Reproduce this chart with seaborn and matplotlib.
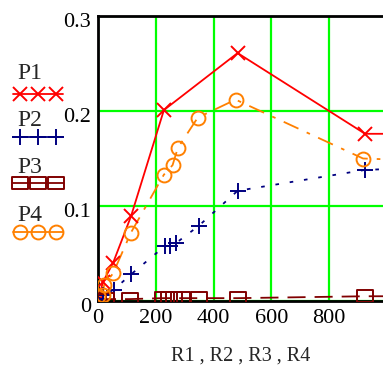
import matplotlib
matplotlib.use("Agg")
import matplotlib.pyplot as plt
import matplotlib.transforms as mtransforms
from matplotlib.path import Path
import seaborn as sns
import pandas as pd

# ---- data ----
p1_x = [0, 17, 52, 114, 228, 483, 924, 1100]
p1_y = [0.0, 0.02, 0.04, 0.089, 0.201, 0.261, 0.176, 0.176]

p2_x = [0, 17, 55, 114, 232, 250, 270, 348, 483, 924, 1100]
p2_y = [0.002, 0.006, 0.012, 0.028, 0.058, 0.058, 0.061, 0.079, 0.116, 0.138, 0.14]

p3_x = [0, 28, 110, 224, 245, 262, 290, 348, 483, 924, 1100]
p3_y = [0.001, 0.002, 0.002, 0.003, 0.003, 0.003, 0.003, 0.003, 0.003, 0.005, 0.005]

p4_x = [0, 17, 21, 52, 114, 228, 258, 276, 345, 476, 917, 1100]
p4_y = [0.005, 0.006, 0.017, 0.029, 0.072, 0.133, 0.143, 0.161, 0.193, 0.212, 0.150, 0.148]

series_names = ["P1", "P2", "P3", "P4"]
x_ticks = [0, 200, 400, 600, 800]
y_ticks = [0, 0.1, 0.2, 0.3]
x_label = "R1 , R2 , R3 , R4"

sns.set_style("white")
plt.rcParams["font.family"] = ["Liberation Serif", "DejaVu Serif"]

W, H = 383, 374
fig = plt.figure(figsize=(W / 100, H / 100), dpi=100)
ax = fig.add_axes([98 / W, 1 - 301 / H, (W - 98) / W, (301 - 16) / H])

wide_square = Path([(-1.3, -1), (1.3, -1), (1.3, 1), (-1.3, 1), (-1.3, -1)],
                   [Path.MOVETO, Path.LINETO, Path.LINETO, Path.LINETO, Path.CLOSEPOLY])

colors = ["#ff0000", "#000080", "#800000", "#ff8000"]
markers = ["x", "+", wide_square, "o"]
msizes = [10, 11, 12, 10]
lstyles = ["-", (0, (2, 6)), (0, (10, 5)), (0, (9, 5, 2, 5))]
data = [(p1_x, p1_y), (p2_x, p2_y), (p3_x, p3_y), (p4_x, p4_y)]

for (xs, ys), c, m, ms, ls in zip(data, colors, markers, msizes, lstyles):
    df = pd.DataFrame({"x": xs, "y": ys})
    sns.lineplot(data=df, x="x", y="y", ax=ax, estimator=None, sort=False,
                 color=c, linestyle=ls, linewidth=1.3, zorder=3)
    ax.plot(xs, ys, linestyle="none", marker=m, markersize=ms,
            markeredgecolor=c, markerfacecolor="none", markeredgewidth=1.4,
            zorder=4)

ax.set_xlim(0, 986)
ax.set_ylim(0, 0.3)
ax.set_xticks(x_ticks)
ax.set_xticklabels([str(t) for t in x_ticks])
ax.set_yticks(y_ticks)
ax.set_yticklabels(["0", "0.1", "0.2", "0.3"])
ax.grid(True, color="#00ff00", linewidth=1.6, zorder=0)
ax.set_axisbelow(True)
ax.tick_params(length=0, labelsize=16, colors="black")
ax.tick_params(axis="x", pad=6)
ax.tick_params(axis="y", pad=5)
offset = mtransforms.ScaledTranslation(0, -4 / 100, fig.dpi_scale_trans)
for lbl in ax.get_yticklabels():
    lbl.set_transform(lbl.get_transform() + offset)
ax.set_xlabel(x_label, fontsize=14.5, labelpad=13)
ax.set_ylabel("")
for s in ["left", "top", "bottom"]:
    ax.spines[s].set_color("black")
    ax.spines[s].set_linewidth(2)
ax.spines["right"].set_visible(False)

# ---- legend at left ----
lax = fig.add_axes([0, 0, 80 / W, 1])
lax.set_xlim(0, 80)
lax.set_ylim(H, 0)
lax.axis("off")
label_y = [73, 120, 167, 215]
glyph_y = [94, 137, 183, 232]
for name, ly, gy, c, m, ms in zip(series_names, label_y, glyph_y, colors, markers, msizes):
    lax.text(17, ly, name, fontsize=17, va="center", ha="left")
    lax.plot([13, 63], [gy, gy], color=c, linewidth=1.3)
    lax.plot([20, 38, 56], [gy, gy, gy], linestyle="none", marker=m,
             markersize=ms if m is not wide_square else 11,
             markeredgecolor=c, markerfacecolor="none", markeredgewidth=1.4)

fig.savefig("out.png", dpi=100)
